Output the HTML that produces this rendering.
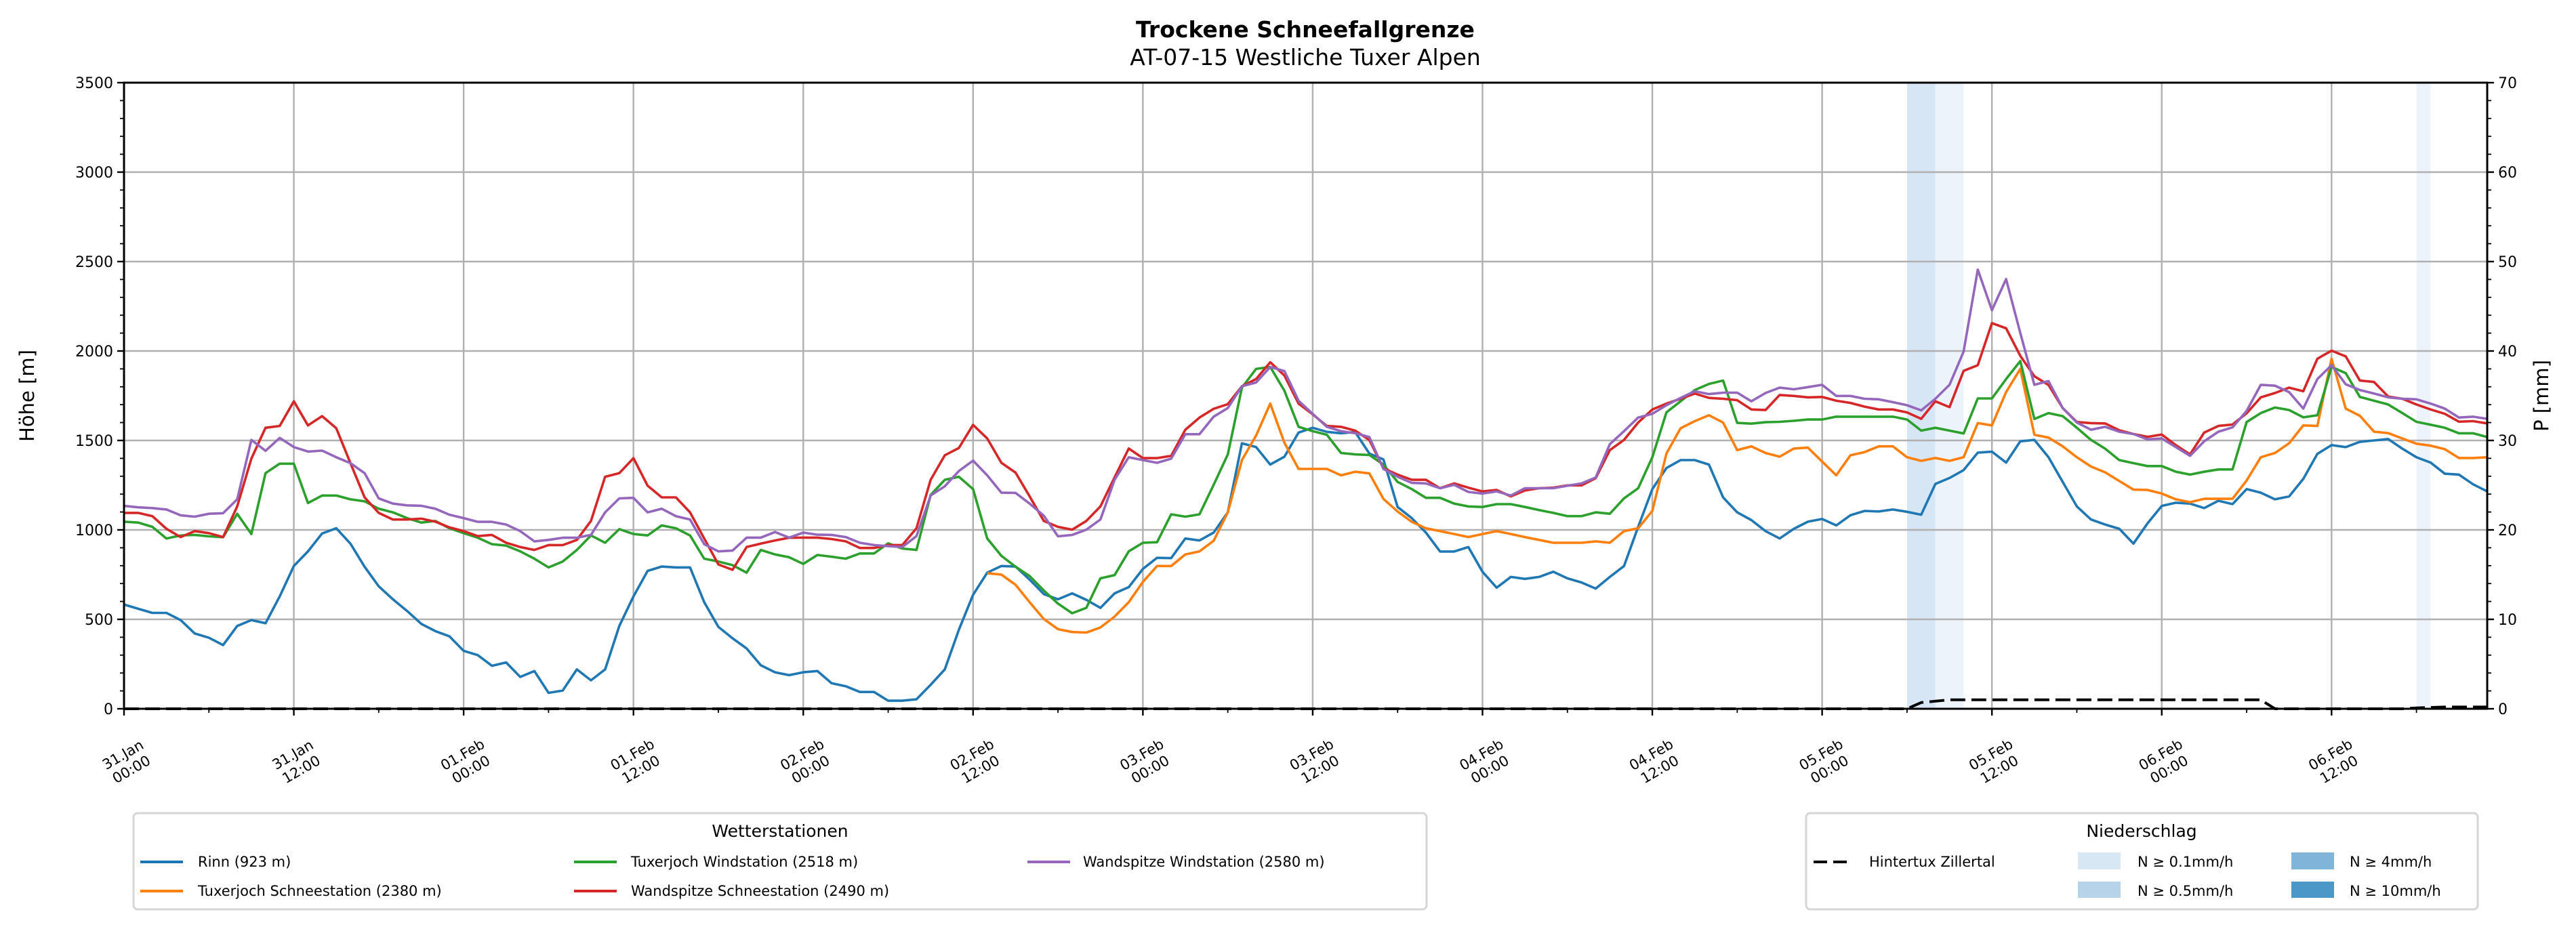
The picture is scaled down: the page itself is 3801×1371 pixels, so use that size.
<!DOCTYPE html>
<html><head><meta charset="utf-8">
<style>
html,body{margin:0;padding:0;background:#fff;}
svg{display:block;font-family:"DejaVu Sans","Liberation Sans",sans-serif;}
</style></head>
<body>
<svg id="chart" xmlns="http://www.w3.org/2000/svg" width="3801" height="1371" viewBox="0 0 3801 1371">
<rect x="0" y="0" width="3801" height="1371" fill="#fff"/>
<text x="1926" y="55" text-anchor="middle" font-size="33" font-weight="bold">Trockene Schneefallgrenze</text>
<text x="1926" y="96" text-anchor="middle" font-size="33">AT-07-15 Westliche Tuxer Alpen</text>
<g id="bands"></g>
<g id="grid"></g>
<g id="series"></g>
<g id="axes"></g>
<text transform="translate(50,584) rotate(-90)" text-anchor="middle" font-size="29">Höhe [m]</text>
<text transform="translate(3760,584) rotate(-90)" text-anchor="middle" font-size="29">P [mm]</text>

<g>
<rect x="197" y="1200" width="1908" height="142" rx="6" fill="#fff" stroke="#d6d6d6" stroke-width="3"/>
<text x="1151" y="1235" text-anchor="middle" font-size="25">Wetterstationen</text>
<g><line x1="207" y1="1272" x2="270" y2="1272" stroke="#1f77b4" stroke-width="4"/><text x="292" y="1279" font-size="21">Rinn (923 m)</text></g>
<g><line x1="207" y1="1315" x2="270" y2="1315" stroke="#ff7f0e" stroke-width="4"/><text x="292" y="1322" font-size="21">Tuxerjoch Schneestation (2380 m)</text></g>
<g><line x1="847" y1="1272" x2="910" y2="1272" stroke="#2ca02c" stroke-width="4"/><text x="931" y="1279" font-size="21">Tuxerjoch Windstation (2518 m)</text></g>
<g><line x1="847" y1="1315" x2="910" y2="1315" stroke="#d62728" stroke-width="4"/><text x="931" y="1322" font-size="21">Wandspitze Schneestation (2490 m)</text></g>
<g><line x1="1516" y1="1272" x2="1579" y2="1272" stroke="#9467bd" stroke-width="4"/><text x="1598" y="1279" font-size="21">Wandspitze Windstation (2580 m)</text></g>
</g>

<g>
<rect x="2665" y="1200" width="991" height="142" rx="6" fill="#fff" stroke="#d6d6d6" stroke-width="3"/>
<text x="3160" y="1235" text-anchor="middle" font-size="25">Niederschlag</text>
<g><line x1="2676" y1="1272" x2="2733" y2="1272" stroke="#000" stroke-width="4" stroke-dasharray="20,9"/><text x="2758" y="1279" font-size="21">Hintertux Zillertal</text></g>
<g><rect x="3066" y="1258" width="63" height="25" fill="#d7e7f4"/><text x="3154" y="1279" font-size="21">N ≥ 0.1mm/h</text></g>
<g><rect x="3066" y="1301" width="63" height="24" fill="#b7d3ea"/><text x="3154" y="1322" font-size="21">N ≥ 0.5mm/h</text></g>
<g><rect x="3381" y="1258" width="63" height="25" fill="#80b5d9"/><text x="3467" y="1279" font-size="21">N ≥ 4mm/h</text></g>
<g><rect x="3381" y="1301" width="63" height="24" fill="#4a97c8"/><text x="3467" y="1322" font-size="21">N ≥ 10mm/h</text></g>
</g>
</svg>
<script>
const hours0 = 0, hoursEnd = 167;
const yTicks = [0,500,1000,1500,2000,2500,3000,3500];
const pTicks = [0,10,20,30,40,50,60,70];
const xTickHours = [0,12,24,36,48,60,72,84,96,108,120,132,144,156];
const xTickDay = ["31.Jan","31.Jan","01.Feb","01.Feb","02.Feb","02.Feb","03.Feb","03.Feb","04.Feb","04.Feb","05.Feb","05.Feb","06.Feb","06.Feb"];
const xTickTime = ["00:00","12:00","00:00","12:00","00:00","12:00","00:00","12:00","00:00","12:00","00:00","12:00","00:00","12:00"];

const rinn = [583,559,536,536,496,421,397,356,463,496,478,628,798,880,980,1009,923,794,685,612,547,475,434,405,324,300,240,259,178,211,89,102,220,159,220,463,628,771,795,790,790,596,458,
394,337,243,204,188,204,211,143,126,94,94,45,45,53,134,220,442,637,761,798,795,722,641,612,645,609,564,645,680,782,844,842,952,941,985,1098,1484,1463,1365,1409,1544,
1571,1548,1540,1547,1427,1394,1128,1066,985,879,879,904,766,677,737,726,737,766,729,706,672,737,798,1017,1228,1346,1390,1390,1365,1182,1098,1055,993,952,1006,1046,1061,1025,1082,1106,1103,1114,
1101,1085,1257,1290,1334,1432,1437,1376,1495,1503,1406,1268,1131,1058,1030,1006,923,1037,1134,1152,1147,1122,1163,1144,1228,1208,1171,1187,1285,1425,1474,1463,1492,1500,1508,1454,1406,1376,1314,1309,1255,1215];

const tuxSchnee = [null,null,null,null,null,null,null,null,null,null,null,null,null,null,null,null,null,null,null,null,
null,null,null,null,null,null,null,null,null,null,null,null,null,null,null,null,null,null,null,null,
null,null,null,null,null,null,null,null,null,null,null,null,null,null,null,null,null,null,null,null,null,
758,750,693,596,502,445,429,426,454,515,596,709,798,798,863,880,939,1098,1390,1527,1706,1487,1341,
1341,1341,1305,1325,1316,1173,1103,1045,1009,993,977,960,977,993,977,960,944,928,928,928,936,928,993,1009,1106,1427,1568,1608,1641,1600,1446,1467,1430,1409,1455,1460,1382,1305,1417,1435,1467,1467,
1406,1386,1402,1386,1406,1597,1584,1770,1900,1532,1516,1467,1406,1354,1322,1273,1225,1223,1203,1171,1155,1174,1174,1174,1276,1406,1430,1484,1584,1581,1957,1678,1638,1549,1541,1511,1482,1471,1451,1402,1402,1406];

const tuxWind = [1046,1041,1017,952,969,972,964,959,1090,977,1317,1370,1370,1150,1192,1192,1171,1160,1118,1098,1066,1041,1050,1009,982,956,920,912,880,839,790,823,888,969,928,1004,977,969,1025,1009,969,839,823,
803,761,888,863,847,810,860,850,839,868,868,925,896,888,1195,1280,1297,1228,952,855,794,742,661,588,534,564,729,747,880,928,931,1087,1074,1087,1252,1422,1795,1900,1911,1778,1576,
1552,1532,1430,1422,1419,1365,1268,1228,1179,1179,1147,1131,1128,1144,1144,1128,1111,1095,1077,1077,1098,1090,1176,1233,1406,1657,1719,1782,1816,1835,1598,1594,1602,1604,1610,1617,1617,1633,1633,1633,1633,1633,
1617,1555,1571,1555,1539,1735,1735,1843,1944,1620,1653,1636,1571,1503,1454,1390,1373,1357,1357,1325,1309,1325,1338,1338,1603,1653,1684,1670,1629,1641,1911,1876,1743,1722,1701,1653,1604,1588,1571,1540,1540,1519];

const wandSchnee = [1095,1095,1077,1006,960,993,982,960,1131,1398,1571,1581,1719,1584,1636,1568,1373,1182,1095,1058,1058,1063,1046,1014,993,965,972,928,904,888,915,915,944,1050,1297,1317,1401,1247,1182,1182,1098,952,807,
777,904,923,941,956,957,957,949,936,899,899,915,915,1009,1280,1417,1458,1587,1511,1375,1320,1187,1050,1017,1001,1050,1131,1293,1455,1401,1401,1414,1560,1628,1677,1703,1803,1843,1937,1863,1706,
1646,1581,1576,1555,1503,1344,1309,1280,1280,1233,1260,1236,1215,1223,1187,1220,1233,1236,1249,1249,1289,1446,1503,1600,1673,1706,1733,1762,1738,1733,1725,1673,1670,1754,1749,1741,1743,1722,1710,1689,1673,1673,
1657,1621,1719,1686,1889,1921,2156,2127,1973,1859,1810,1681,1603,1597,1595,1557,1536,1520,1533,1474,1422,1544,1581,1589,1652,1741,1765,1795,1775,1957,2002,1970,1835,1827,1746,1733,1701,1673,1649,1605,1608,1595];

const wandWind = [1134,1126,1122,1114,1082,1074,1090,1093,1171,1503,1442,1514,1463,1438,1443,1406,1373,1317,1176,1147,1137,1135,1118,1085,1066,1045,1045,1030,993,936,944,956,956,972,1098,1176,1179,1098,1118,1077,1058,920,880,
884,957,957,988,957,985,973,972,960,928,915,909,904,965,1192,1244,1329,1387,1305,1208,1207,1147,1079,964,972,1001,1058,1280,1406,1390,1375,1398,1535,1535,1633,1681,1803,1824,1911,1888,1722,
1649,1576,1552,1540,1519,1341,1297,1263,1260,1233,1252,1212,1203,1215,1192,1233,1233,1233,1247,1260,1293,1479,1552,1628,1649,1697,1738,1775,1759,1767,1767,1719,1765,1795,1786,1798,1811,1749,1749,1733,1730,1714,
1697,1668,1733,1811,1997,2455,2228,2402,2101,1811,1832,1681,1600,1560,1576,1549,1536,1506,1511,1463,1414,1495,1549,1573,1665,1811,1806,1770,1678,1843,1921,1814,1782,1762,1741,1733,1730,1706,1678,1628,1633,1621];

const precip = [0,0,0,0,0,0,0,0,0,0,0,0,0,0,0,0,0,0,0,0,0,0,0,0,0,0,0,0,0,0,0,0,0,0,0,0,0,0,0,0,
0,0,0,0,0,0,0,0,0,0,0,0,0,0,0,0,0,0,0,0,0,0,0,0,0,0,0,0,0,0,0,0,0,0,0,0,0,0,0,0,
0,0,0,0,0,0,0,0,0,0,0,0,0,0,0,0,0,0,0,0,0,0,0,0,0,0,0,0,0,0,0,0,0,0,0,0,0,0,0,0,
0,0,0,0,0,0,0,0.7,0.85,1,1,1,1,1,1,1,1,1,1,1,1,1,1,1,1,1,1,1,1,1,1,1,0,0,0,0,0,0,0,0,0,0,0.1,0.15,0.2,0.2,0.2,0.2];

const bandStart = [126,128,162];
const bandEnd = [128,130,163];
const bandLevel = ["n01","n01-light","n01-light"];

const PL=183, PR=3670, PT=122, PB=1046;
function xs(h){return PL+(h-hours0)*(PR-PL)/(hoursEnd-hours0);}
function ys(v){return PB-v*(PB-PT)/3500;}
function yp(p){return PB-p*(PB-PT)/70;}
const NS="http://www.w3.org/2000/svg";
function mk(tag,parent,attrs){const e=document.createElementNS(NS,tag);for(const k in attrs)e.setAttribute(k,attrs[k]);parent.appendChild(e);return e;}

const bandsG=document.getElementById('bands');
const bandFill={"n01":"#d7e6f4","n01-light":"#edf3fb"};
for(let i=0;i<bandStart.length;i++){
  const r=mk('rect',bandsG,{x:xs(bandStart[i]),y:PT,width:xs(bandEnd[i])-xs(bandStart[i]),height:PB-PT,fill:bandFill[bandLevel[i]]});
  
  
}

const grid=document.getElementById('grid');
yTicks.forEach(v=>{const l=mk('line',grid,{x1:PL,x2:PR,y1:ys(v),y2:ys(v),stroke:'#b0b0b0','stroke-width':2.4});
  
  });
xTickHours.forEach(h=>{const l=mk('line',grid,{x1:xs(h),x2:xs(h),y1:PT,y2:PB,stroke:'#b0b0b0','stroke-width':2.4});
  
  });

const sg=document.getElementById('series');
function drawSeries(arr,color,name){
  let d='',pen=false;
  arr.forEach((v,i)=>{if(v===null||v===undefined){pen=false;return;}d+=(pen?'L':'M')+xs(i).toFixed(1)+','+ys(v).toFixed(1);pen=true;});
  const p=mk('path',sg,{d:d,fill:'none',stroke:color,'stroke-width':3.6,'stroke-linejoin':'round'});
  
  
}
drawSeries(rinn,'#1f77b4','line-rinn');
drawSeries(tuxSchnee,'#ff7f0e','line-tuxerjoch-schneestation');
drawSeries(tuxWind,'#2ca02c','line-tuxerjoch-windstation');
drawSeries(wandSchnee,'#d62728','line-wandspitze-schneestation');
drawSeries(wandWind,'#9467bd','line-wandspitze-windstation');
{
  let d='';precip.forEach((v,i)=>{d+=(i?'L':'M')+xs(i).toFixed(1)+','+yp(v).toFixed(1);});
  const p=mk('path',sg,{d:d,fill:'none',stroke:'#000','stroke-width':4,'stroke-dasharray':'22,9'});
  
  
}

const ax=document.getElementById('axes');
const frame=mk('rect',ax,{x:PL,y:PT,width:PR-PL,height:PB-PT,fill:'none',stroke:'#000','stroke-width':3});


for(let v=0;v<=3500;v+=100){const major=v%500===0;mk('line',ax,{x1:PL,x2:PL-(major?10:6),y1:ys(v),y2:ys(v),stroke:'#000','stroke-width':major?2.4:1.8});}
for(let p=0;p<=70;p+=2){const major=p%10===0;mk('line',ax,{x1:PR,x2:PR+(major?10:6),y1:yp(p),y2:yp(p),stroke:'#000','stroke-width':major?2.4:1.8});}
for(let h=0;h<=166;h+=6){const major=h%12===0;mk('line',ax,{x1:xs(h),x2:xs(h),y1:PB,y2:PB+(major?10:6),stroke:'#000','stroke-width':major?2.4:1.8});}
yTicks.forEach(v=>{const t=mk('text',ax,{x:PL-16,y:ys(v)+8,'text-anchor':'end','font-size':22});t.textContent=v;
  
  });
pTicks.forEach(p=>{const t=mk('text',ax,{x:PR+16,y:yp(p)+8,'font-size':22});t.textContent=p;
  
  });
xTickHours.forEach((h,i)=>{
  const g=mk('g',ax,{transform:'translate('+(xs(h)+2)+',1120) rotate(-30)'});
  
  
  const a=mk('text',g,{x:0,y:0,'text-anchor':'middle','font-size':21});a.textContent=xTickDay[i];
  const b=mk('text',g,{x:0,y:25,'text-anchor':'middle','font-size':21});b.textContent=xTickTime[i];
});
</script>
</body></html>
